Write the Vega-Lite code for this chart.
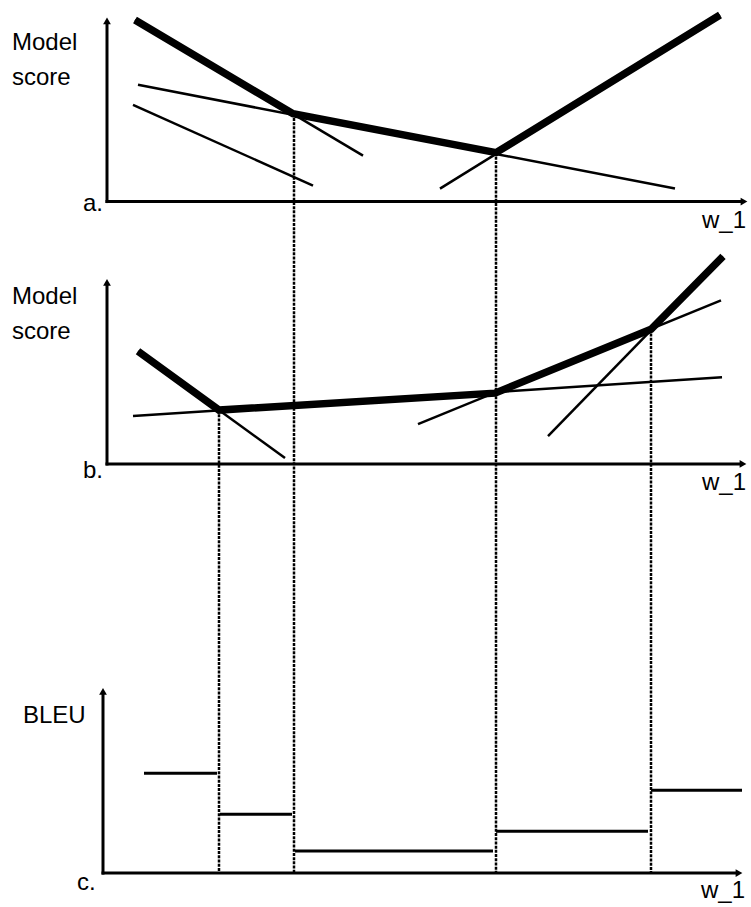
{
  "$schema": "https://vega.github.io/schema/vega-lite/v6.json",
  "autosize": {"type": "fit", "contains": "padding"},
  "width": 751,
  "height": 907,
  "padding": 0,
  "background": "white",
  "config": {"view": {"stroke": null}},
  "datasets": {
    "candidates": [
      {"panel": "a", "x": 135, "y": 18, "x2": 363, "y2": 154},
      {"panel": "a", "x": 138, "y": 83, "x2": 675, "y2": 187},
      {"panel": "a", "x": 440, "y": 187, "x2": 720, "y2": 13},
      {"panel": "a", "x": 133, "y": 103, "x2": 313, "y2": 184},
      {"panel": "b", "x": 138, "y": 350, "x2": 285, "y2": 457},
      {"panel": "b", "x": 133, "y": 415, "x2": 722, "y2": 376},
      {"panel": "b", "x": 418, "y": 423, "x2": 721, "y2": 299},
      {"panel": "b", "x": 548, "y": 435, "x2": 723, "y2": 255}
    ],
    "envelope": [
      {"panel": "a", "i": 1, "x": 135, "y": 18},
      {"panel": "a", "i": 2, "x": 293, "y": 112},
      {"panel": "a", "i": 3, "x": 496, "y": 151},
      {"panel": "a", "i": 4, "x": 720, "y": 13},
      {"panel": "b", "i": 1, "x": 138, "y": 350},
      {"panel": "b", "i": 2, "x": 219, "y": 409},
      {"panel": "b", "i": 3, "x": 495, "y": 392},
      {"panel": "b", "i": 4, "x": 651, "y": 328},
      {"panel": "b", "i": 5, "x": 723, "y": 255}
    ],
    "axes": [
      {"panel": "a", "x": 107, "y": 20, "x2": 107, "y2": 201.5},
      {"panel": "a", "x": 105.5, "y": 200, "x2": 744, "y2": 200},
      {"panel": "b", "x": 107, "y": 282, "x2": 107, "y2": 464.5},
      {"panel": "b", "x": 105.5, "y": 463, "x2": 743, "y2": 463},
      {"panel": "c", "x": 103, "y": 692, "x2": 103, "y2": 874.5},
      {"panel": "c", "x": 101.5, "y": 873, "x2": 739, "y2": 873}
    ],
    "arrows": [
      {"panel": "a", "dir": "up", "x": 107, "y": 19},
      {"panel": "a", "dir": "right", "x": 744, "y": 200},
      {"panel": "b", "dir": "up", "x": 107, "y": 281},
      {"panel": "b", "dir": "right", "x": 743, "y": 463},
      {"panel": "c", "dir": "up", "x": 103, "y": 691},
      {"panel": "c", "dir": "right", "x": 739, "y": 873}
    ],
    "boundaries": [
      {"x": 294, "y": 112, "y2": 873},
      {"x": 496, "y": 151, "y2": 873},
      {"x": 219, "y": 409, "y2": 873},
      {"x": 651, "y": 328, "y2": 873}
    ],
    "bleu": [
      {"x": 144, "x2": 217, "y": 773},
      {"x": 220, "x2": 292, "y": 814},
      {"x": 295, "x2": 493, "y": 851},
      {"x": 496, "x2": 648, "y": 831},
      {"x": 651, "x2": 742, "y": 790}
    ],
    "labels": [
      {"text": "Model", "x": 12, "y": 48},
      {"text": "score", "x": 12, "y": 83},
      {"text": "Model", "x": 12, "y": 303},
      {"text": "score", "x": 12, "y": 338},
      {"text": "BLEU", "x": 23, "y": 723},
      {"text": "a.", "x": 83, "y": 209},
      {"text": "b.", "x": 83, "y": 477},
      {"text": "c.", "x": 77, "y": 890},
      {"text": "w_1", "x": 702, "y": 227},
      {"text": "w_1", "x": 702, "y": 489},
      {"text": "w_1", "x": 701, "y": 898}
    ]
  },
  "encoding": {
    "x": {"type": "quantitative", "scale": {"domain": [0, 751], "nice": false, "zero": false}, "axis": null},
    "y": {"type": "quantitative", "scale": {"domain": [0, 907], "nice": false, "zero": false, "reverse": true}, "axis": null}
  },
  "layer": [
    {
      "data": {"name": "boundaries"},
      "mark": {"type": "rule", "color": "black", "strokeWidth": 2.5, "strokeDash": [3, 1.2]},
      "encoding": {"x": {"field": "x"}, "y": {"field": "y"}, "y2": {"field": "y2"}}
    },
    {
      "data": {"name": "candidates"},
      "mark": {"type": "rule", "color": "black", "strokeWidth": 2.5},
      "encoding": {"x": {"field": "x"}, "y": {"field": "y"}, "x2": {"field": "x2"}, "y2": {"field": "y2"}}
    },
    {
      "data": {"name": "envelope"},
      "mark": {"type": "line", "color": "black", "strokeWidth": 7.5, "strokeJoin": "miter", "strokeCap": "butt"},
      "encoding": {"x": {"field": "x"}, "y": {"field": "y"}, "detail": {"field": "panel"}, "order": {"field": "i"}}
    },
    {
      "data": {"name": "bleu"},
      "mark": {"type": "rule", "color": "black", "strokeWidth": 3},
      "encoding": {"x": {"field": "x"}, "x2": {"field": "x2"}, "y": {"field": "y"}}
    },
    {
      "data": {"name": "axes"},
      "mark": {"type": "rule", "color": "black", "strokeWidth": 3},
      "encoding": {"x": {"field": "x"}, "y": {"field": "y"}, "x2": {"field": "x2"}, "y2": {"field": "y2"}}
    },
    {
      "data": {"name": "arrows"},
      "mark": {"type": "point", "filled": true, "color": "black", "opacity": 1, "size": 60},
      "encoding": {
        "x": {"field": "x"},
        "y": {"field": "y"},
        "shape": {"field": "dir", "type": "nominal", "scale": {"domain": ["up", "right"], "range": ["triangle-up", "triangle-right"]}, "legend": null}
      }
    },
    {
      "data": {"name": "labels"},
      "mark": {"type": "text", "font": "Liberation Sans", "fontSize": 24, "align": "left", "baseline": "alphabetic", "color": "black"},
      "encoding": {"x": {"field": "x"}, "y": {"field": "y"}, "text": {"field": "text"}}
    }
  ]
}
